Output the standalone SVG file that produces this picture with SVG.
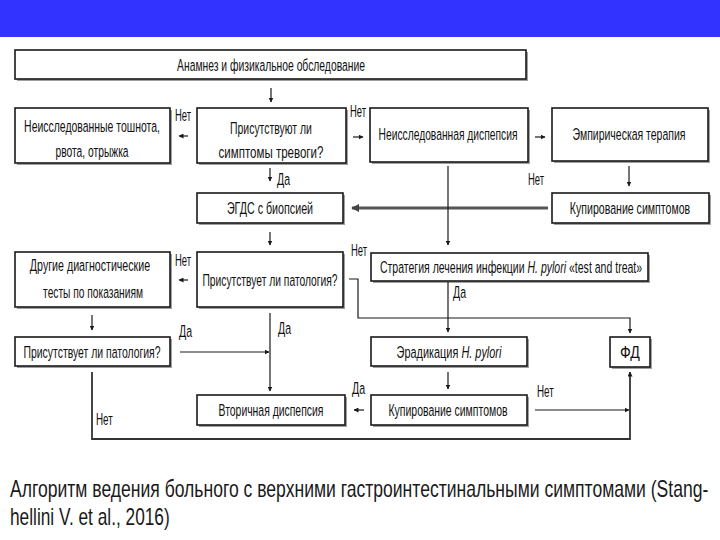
<svg xmlns="http://www.w3.org/2000/svg" width="720" height="540" viewBox="0 0 720 540">
<style>
.sh{fill:#a0a0a0}
.box{fill:#fff;stroke:#1a1a1a;stroke-width:1.6}
.t{font-family:"Liberation Sans Narrow","Liberation Sans",Arial,sans-serif;font-size:17px;fill:#111;text-anchor:middle}
.l{font-family:"Liberation Sans Narrow","Liberation Sans",Arial,sans-serif;font-size:17px;fill:#111}
.ln{stroke:#1a1a1a;stroke-width:1.2;fill:none}
.thick{stroke:#555;stroke-width:3.2;fill:none}
.bot{stroke:#333;stroke-width:1.8;fill:none}
.cap{font-family:"Liberation Sans Narrow","Liberation Sans",Arial,sans-serif;font-size:24px;fill:#1a1a1a}
</style>
<defs>
<marker id="ah" viewBox="0 0 10 10" refX="9" refY="5" markerWidth="5" markerHeight="5" markerUnits="userSpaceOnUse" orient="auto"><path d="M0,0 L10,5 L0,10 z" fill="#1a1a1a"/></marker>
<marker id="ahb" viewBox="0 0 10 10" refX="9" refY="5" markerWidth="8" markerHeight="8" markerUnits="userSpaceOnUse" orient="auto"><path d="M0,0 L10,5 L0,10 z" fill="#444"/></marker>
</defs>
<rect x="0" y="0" width="720" height="540" fill="#fff"/>
<rect x="0" y="0" width="720" height="37" fill="#3333ff"/>

<g id="n0"><rect class="sh" x="17" y="52" width="511" height="29"/><rect class="box" x="15" y="50" width="511" height="29"/><text class="t" transform="translate(271,71) scale(0.62,1)" textLength="303" lengthAdjust="spacingAndGlyphs">Анамнез и физикальное обследование</text></g>
<g id="n1"><rect class="sh" x="17" y="110" width="155" height="55"/><rect class="box" x="15" y="108" width="155" height="55"/><text class="t" transform="translate(92,132) scale(0.62,1)" textLength="219" lengthAdjust="spacingAndGlyphs">Неисследованные тошнота,</text><text class="t" transform="translate(92,157) scale(0.62,1)" textLength="118" lengthAdjust="spacingAndGlyphs">рвота, отрыжка</text></g>
<g id="n2"><rect class="sh" x="199" y="110" width="149" height="55"/><rect class="box" x="197" y="108" width="149" height="55"/><text class="t" transform="translate(271,134) scale(0.62,1)" textLength="132" lengthAdjust="spacingAndGlyphs">Присутствуют ли</text><text class="t" transform="translate(271,158) scale(0.62,1)" textLength="169" lengthAdjust="spacingAndGlyphs">симптомы тревоги?</text></g>
<g id="n3"><rect class="sh" x="372" y="110" width="158" height="54"/><rect class="box" x="370" y="108" width="158" height="54"/><text class="t" transform="translate(448,140) scale(0.62,1)" textLength="224" lengthAdjust="spacingAndGlyphs">Неисследованная диспепсия</text></g>
<g id="n4"><rect class="sh" x="554" y="110" width="156" height="53"/><rect class="box" x="552" y="108" width="156" height="53"/><text class="t" transform="translate(629,140) scale(0.62,1)" textLength="182" lengthAdjust="spacingAndGlyphs">Эмпирическая терапия</text></g>
<g id="n5"><rect class="sh" x="199" y="195" width="146" height="30"/><rect class="box" x="197" y="193" width="146" height="30"/><text class="t" transform="translate(270,214) scale(0.62,1)" textLength="139" lengthAdjust="spacingAndGlyphs">ЭГДС с биопсией</text></g>
<g id="n6"><rect class="sh" x="554" y="195" width="157" height="30"/><rect class="box" x="552" y="193" width="157" height="30"/><text class="t" transform="translate(630,214) scale(0.62,1)" textLength="194" lengthAdjust="spacingAndGlyphs">Купирование симптомов</text></g>
<g id="n7"><rect class="sh" x="17" y="254" width="155" height="55"/><rect class="box" x="15" y="252" width="155" height="55"/><text class="t" transform="translate(90,271) scale(0.62,1)" textLength="194" lengthAdjust="spacingAndGlyphs">Другие диагностические</text><text class="t" transform="translate(93,298) scale(0.62,1)" textLength="161" lengthAdjust="spacingAndGlyphs">тесты по показаниям</text></g>
<g id="n8"><rect class="sh" x="199" y="254" width="146" height="55"/><rect class="box" x="197" y="252" width="146" height="55"/><text class="t" transform="translate(270,286) scale(0.62,1)" textLength="218" lengthAdjust="spacingAndGlyphs">Присутствует ли патология?</text></g>
<g id="n9"><rect class="sh" x="373" y="255" width="277" height="28"/><rect class="box" x="371" y="253" width="277" height="28"/><text class="t" transform="translate(511,273) scale(0.62,1)" textLength="423" lengthAdjust="spacingAndGlyphs">Стратегия лечения инфекции <tspan font-style="italic">H. pylori</tspan> «test and treat»</text></g>
<g id="n10"><rect class="sh" x="17" y="339" width="155" height="29"/><rect class="box" x="15" y="337" width="155" height="29"/><text class="t" transform="translate(92,358) scale(0.62,1)" textLength="221" lengthAdjust="spacingAndGlyphs">Присутствует ли патология?</text></g>
<g id="n11"><rect class="sh" x="373" y="339" width="156" height="29"/><rect class="box" x="371" y="337" width="156" height="29"/><text class="t" transform="translate(449,358) scale(0.62,1)" textLength="169" lengthAdjust="spacingAndGlyphs">Эрадикация <tspan font-style="italic">H. pylori</tspan></text></g>
<g id="n12"><rect class="sh" x="612" y="339" width="40" height="30"/><rect class="box" x="610" y="337" width="40" height="30"/><text class="t" transform="translate(630,358) scale(0.62,1)" textLength="32" lengthAdjust="spacingAndGlyphs">ФД</text></g>
<g id="n13"><rect class="sh" x="199" y="397" width="148" height="30"/><rect class="box" x="197" y="395" width="148" height="30"/><text class="t" transform="translate(271,416) scale(0.62,1)" textLength="169" lengthAdjust="spacingAndGlyphs">Вторичная диспепсия</text></g>
<g id="n14"><rect class="sh" x="373" y="397" width="156" height="30"/><rect class="box" x="371" y="395" width="156" height="30"/><text class="t" transform="translate(448,416) scale(0.62,1)" textLength="192" lengthAdjust="spacingAndGlyphs">Купирование симптомов</text></g>

<g id="connectors">
<line class="ln" x1="271" y1="88" x2="271" y2="102" marker-end="url(#ah)"/>
<line class="ln" x1="188" y1="136" x2="179" y2="136" marker-end="url(#ah)"/>
<line class="ln" x1="353" y1="137" x2="363" y2="137" marker-end="url(#ah)"/>
<line class="ln" x1="535" y1="137" x2="545" y2="137" marker-end="url(#ah)"/>
<line class="ln" x1="270" y1="168" x2="270" y2="181" marker-end="url(#ah)"/>
<line class="thick" x1="548" y1="208" x2="352" y2="208" marker-end="url(#ahb)"/>
<line class="ln" x1="448" y1="166" x2="448" y2="245" marker-end="url(#ah)"/>
<line class="ln" x1="629" y1="166" x2="629" y2="186" marker-end="url(#ah)"/>
<line class="ln" x1="270" y1="232" x2="270" y2="245" marker-end="url(#ah)"/>
<line class="ln" x1="188" y1="280" x2="179" y2="280" marker-end="url(#ah)"/>
<path class="ln" d="M349,279 H358 V318 H630 V333" marker-end="url(#ah)"/>
<line class="ln" x1="448" y1="282" x2="448" y2="332" marker-end="url(#ah)"/>
<line class="ln" x1="92" y1="315" x2="92" y2="330" marker-end="url(#ah)"/>
<line class="ln" x1="180" y1="352" x2="269" y2="352" marker-end="url(#ah)"/>
<line class="ln" x1="270" y1="313" x2="270" y2="391" marker-end="url(#ah)"/>
<line class="ln" x1="448" y1="372" x2="448" y2="389" marker-end="url(#ah)"/>
<line class="ln" x1="364" y1="410" x2="354" y2="410" marker-end="url(#ah)"/>
<line class="ln" x1="535" y1="410" x2="629" y2="410" marker-end="url(#ah)"/>
<path class="bot" d="M92,372 V439 H630 V372" marker-end="url(#ah)"/>
</g>

<g id="labels">
<text class="l" transform="translate(175,121) scale(0.62,1)" textLength="26" lengthAdjust="spacingAndGlyphs">Нет</text>
<text class="l" transform="translate(350,117) scale(0.62,1)" textLength="26" lengthAdjust="spacingAndGlyphs">Нет</text>
<text class="l" transform="translate(277,185) scale(0.62,1)" textLength="21" lengthAdjust="spacingAndGlyphs">Да</text>
<text class="l" transform="translate(528,185) scale(0.62,1)" textLength="26" lengthAdjust="spacingAndGlyphs">Нет</text>
<text class="l" transform="translate(175,266) scale(0.62,1)" textLength="26" lengthAdjust="spacingAndGlyphs">Нет</text>
<text class="l" transform="translate(351,256) scale(0.62,1)" textLength="26" lengthAdjust="spacingAndGlyphs">Нет</text>
<text class="l" transform="translate(453,298) scale(0.62,1)" textLength="21" lengthAdjust="spacingAndGlyphs">Да</text>
<text class="l" transform="translate(179,337) scale(0.62,1)" textLength="21" lengthAdjust="spacingAndGlyphs">Да</text>
<text class="l" transform="translate(278,334) scale(0.62,1)" textLength="21" lengthAdjust="spacingAndGlyphs">Да</text>
<text class="l" transform="translate(96,425) scale(0.62,1)" textLength="27" lengthAdjust="spacingAndGlyphs">Нет</text>
<text class="l" transform="translate(352,394) scale(0.62,1)" textLength="21" lengthAdjust="spacingAndGlyphs">Да</text>
<text class="l" transform="translate(537,397) scale(0.62,1)" textLength="27" lengthAdjust="spacingAndGlyphs">Нет</text>
</g>

<g id="caption">
<text class="cap" transform="translate(10,497) scale(0.66,1)" textLength="1058" lengthAdjust="spacingAndGlyphs">Алгоритм ведения больного с верхними гастроинтестинальными симптомами (Stang-</text>
<text class="cap" transform="translate(10,525) scale(0.66,1)" textLength="242" lengthAdjust="spacingAndGlyphs">hellini V. et al., 2016)</text>
</g>
</svg>
